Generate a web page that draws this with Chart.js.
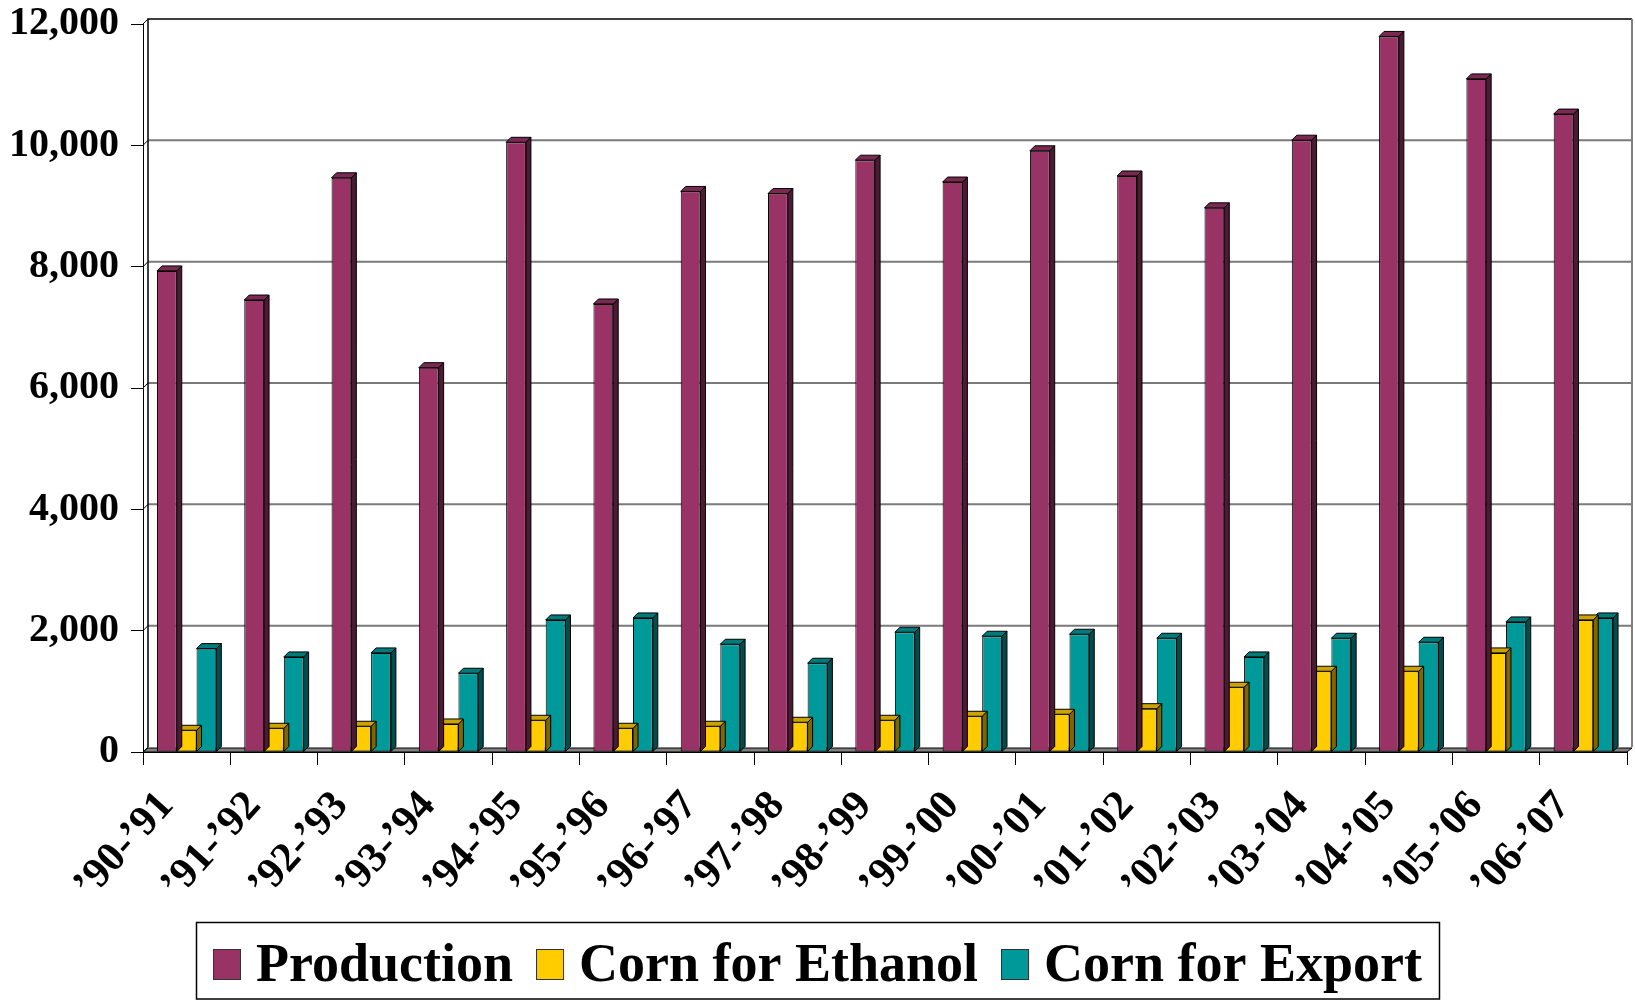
<!DOCTYPE html>
<html>
<head>
  <title>Corn Production, Ethanol and Export</title>
  <script src="https://cdn.jsdelivr.net/npm/chart.js"></script>
  <style>
    html, body { margin: 0; padding: 0; background: #fff; }
  </style>
</head>
<body>
  <canvas id="cornChart" width="1635" height="1001"></canvas>

  <script>
    // marketing years and million bushels
    const years = ['\u201990-\u201991', '\u201991-\u201992', '\u201992-\u201993', '\u201993-\u201994',
                   '\u201994-\u201995', '\u201995-\u201996', '\u201996-\u201997', '\u201997-\u201998',
                   '\u201998-\u201999', '\u201999-\u201900', '\u201900-\u201901', '\u201901-\u201902',
                   '\u201902-\u201903', '\u201903-\u201904', '\u201904-\u201905', '\u201905-\u201906',
                   '\u201906-\u201907'];
    const production = [7930, 7450, 9465, 6335, 10050, 7385, 9240, 9205, 9755, 9395, 9910, 9495, 8970, 10085, 11795, 11095, 10515];
    const ethanol    = [358, 391, 424, 462, 523, 391, 424, 490, 523, 589, 622, 714, 1067, 1331, 1331, 1633, 2177];
    const exported   = [1704, 1567, 1633, 1298, 2177, 2210, 1776, 1463, 1974, 1908, 1941, 1875, 1567, 1875, 1809, 2144, 2210];

    const FONT = "'Liberation Serif', 'Times New Roman', serif";
    const DEPTH = 5;

    function shade(hex, f) {
      const n = parseInt(hex.slice(1), 16);
      const r = Math.round(((n >> 16) & 255) * f);
      const g = Math.round(((n >> 8) & 255) * f);
      const b = Math.round((n & 255) * f);
      return `rgb(${r},${g},${b})`;
    }

    function poly(ctx, pts, fill) {
      ctx.beginPath();
      ctx.moveTo(pts[0][0], pts[0][1]);
      for (let i = 1; i < pts.length; i++) ctx.lineTo(pts[i][0], pts[i][1]);
      ctx.closePath();
      if (fill) { ctx.fillStyle = fill; ctx.fill(); }
      ctx.stroke();
    }

    // back wall, side wall and floor behind the bars
    const walls = {
      id: 'walls',
      beforeDatasetsDraw(chart) {
        const { ctx, chartArea: a, scales: { y } } = chart;
        const d = DEPTH;
        ctx.save();
        ctx.lineWidth = 2;
        ctx.strokeStyle = '#7a7a7a';
        y.ticks.forEach(t => {
          const py = y.getPixelForValue(t.value);
          if (t.value === 0 || t.value === y.max) return;
          ctx.beginPath();
          ctx.moveTo(a.left + d, py - d);
          ctx.lineTo(a.right + d, py - d);
          ctx.stroke();
        });
        ctx.strokeStyle = '#000';
        ctx.lineWidth = 1;
        y.ticks.forEach(t => {
          const py = y.getPixelForValue(t.value);
          ctx.beginPath();
          ctx.moveTo(a.left, py);
          ctx.lineTo(a.left + d, py - d);
          ctx.stroke();
        });
        // outline of the wall
        ctx.lineWidth = 1.5;
        ctx.beginPath();
        ctx.moveTo(a.left + d, a.bottom - d);
        ctx.lineTo(a.left + d, a.top - d);
        ctx.lineTo(a.right + d, a.top - d);
        ctx.stroke();
        ctx.strokeStyle = '#808080';
        ctx.lineWidth = 2;
        ctx.beginPath();
        ctx.moveTo(a.right + d, a.top - d);
        ctx.lineTo(a.right + d, a.bottom - d);
        ctx.stroke();
        // floor
        ctx.strokeStyle = '#000';
        ctx.lineWidth = 1;
        poly(ctx, [[a.left, a.bottom], [a.left + d, a.bottom - d + 1],
                   [a.right + d, a.bottom - d + 1], [a.right, a.bottom]], '#808080');
        ctx.restore();
      },
      // side and top faces of every bar
      afterDatasetDraw(chart, args) {
        const ctx = chart.ctx;
        const ds = chart.data.datasets[args.index];
        const d = DEPTH;
        ctx.save();
        ctx.strokeStyle = '#000';
        ctx.lineWidth = 1;
        ctx.lineJoin = 'round';
        args.meta.data.forEach(bar => {
          const { x, y, base, width } = bar.getProps(['x', 'y', 'base', 'width'], true);
          const l = x - width / 2, r = x + width / 2;
          poly(ctx, [[r, y], [r + d, y - d], [r + d, base - d], [r, base]], ds.sideColor);
          poly(ctx, [[l, y], [l + d, y - d], [r + d, y - d], [r, y]], ds.topColor);
        });
        ctx.restore();
      }
    };

    // boxed legend under the axis labels
    const boxLegend = {
      id: 'boxLegend',
      afterDraw(chart) {
        const ctx = chart.ctx;
        const sw = 28, sh = 31, gapText = 15, gapItem = 23, padX = 17;
        ctx.save();
        ctx.font = 'bold 54px ' + FONT;
        const items = chart.data.datasets.map(ds => ({
          text: ds.label, color: ds.backgroundColor, w: ctx.measureText(ds.label).width
        }));
        const total = items.reduce((s, it) => s + sw + gapText + it.w, 0) + gapItem * (items.length - 1);
        const cx = chart.width / 2;
        const boxL = Math.round(cx - total / 2 - padX) + 0.5;
        ctx.strokeStyle = '#000';
        ctx.lineWidth = 1.5;
        ctx.strokeRect(boxL, 922.5, total + padX * 2, 76.5);
        let x = cx - total / 2;
        items.forEach(it => {
          ctx.fillStyle = it.color;
          ctx.fillRect(x, 949, sw, sh);
          ctx.strokeStyle = '#333';
          ctx.lineWidth = 1;
          ctx.strokeRect(x + 0.5, 949.5, sw - 1, sh - 1);
          x += sw + gapText;
          ctx.fillStyle = '#000';
          ctx.textBaseline = 'alphabetic';
          ctx.fillText(it.text, x, 981);
          x += it.w + gapItem;
        });
        ctx.restore();
      }
    };

    const colors = ['#993366', '#FFCC00', '#009999'];
    const series = [['Production', production], ['Corn for Ethanol', ethanol], ['Corn for Export', exported]];

    new Chart(document.getElementById('cornChart'), {
      type: 'bar',
      data: {
        labels: years,
        datasets: series.map(([label, values], i) => ({
          label: label,
          data: values,
          backgroundColor: colors[i],
          sideColor: shade(colors[i], 0.5),
          topColor: shade(colors[i], 0.8),
          borderColor: '#000',
          borderWidth: 1,
          borderSkipped: false,
          categoryPercentage: 0.68,
          barPercentage: 1
        }))
      },
      options: {
        responsive: false,
        animation: false,
        events: [],
        layout: { padding: { top: 24, right: 8, bottom: 89, left: 0 } },
        plugins: { legend: { display: false }, tooltip: { enabled: false } },
        scales: {
          x: {
            grid: { offset: true, drawOnChartArea: false, drawTicks: true, tickLength: 13, color: '#000' },
            border: { display: true, color: '#000', width: 1 },
            ticks: {
              minRotation: 48, maxRotation: 48, autoSkip: false,
              color: '#000', padding: 17, labelOffset: -20,
              font: { family: FONT, size: 42, weight: 'bold' }
            },
            afterFit: s => { s.height = 160; s.paddingLeft = 0; s.paddingRight = 0; }
          },
          y: {
            min: 0, max: 12000,
            grid: { drawOnChartArea: false, drawTicks: true, tickLength: 12, color: '#000' },
            border: { display: true, color: '#000', width: 1 },
            ticks: {
              stepSize: 2000, color: '#000', padding: 12,
              font: { family: FONT, size: 40, weight: 'bold' },
              callback: v => v.toLocaleString('en-US')
            },
            afterFit: s => { s.width = 143; s.paddingTop = 0; s.paddingBottom = 0; }
          }
        }
      },
      plugins: [walls, boxLegend]
    });
  </script>
</body>
</html>
